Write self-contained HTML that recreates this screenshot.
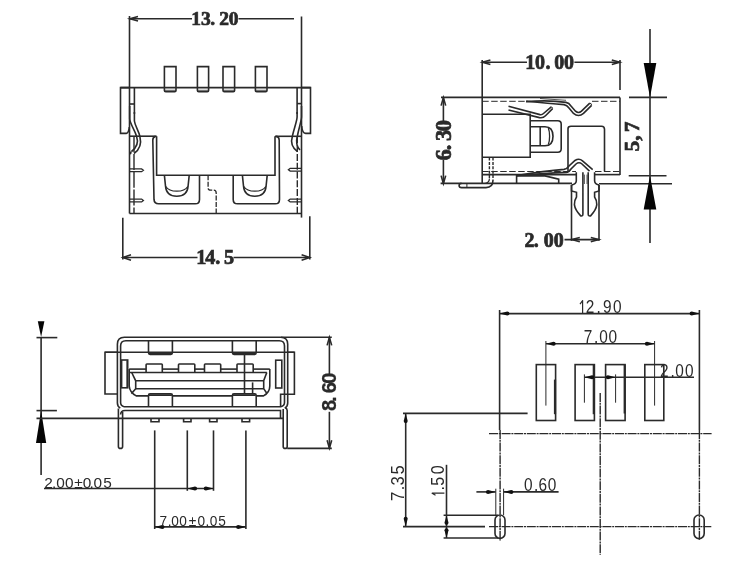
<!DOCTYPE html>
<html><head><meta charset="utf-8"><style>
html,body{margin:0;padding:0;background:#fff;}
svg{display:block;will-change:transform;}
</style></head><body>
<svg width="740" height="564" viewBox="0 0 740 564">
<rect x="0" y="0" width="740" height="564" fill="#fff"/>
<g fill="none" stroke="#2a2a2a" stroke-width="1.6" stroke-linecap="butt" stroke-linejoin="miter">
<line x1="129.5" y1="16" x2="129.5" y2="213.5"/>
<line x1="301.5" y1="16.5" x2="301.5" y2="217.6"/>
<line x1="130" y1="18.7" x2="192" y2="18.7"/>
<line x1="238.5" y1="18.7" x2="294" y2="18.7"/>
<path d="M138.00,20.90 L130,18.7 L138.00,16.50" fill="none"/>
<path d="M130,18.7 L134.00,19.80 L134.00,17.60 Z" fill="#2a2a2a" stroke="none"/>
<text y="25.3" font-family="Liberation Serif" font-weight="bold" font-size="19.5" fill="#2a2a2a" stroke="#2a2a2a" stroke-width="0.7"><tspan x="191.29">1</tspan><tspan x="200.96">3</tspan><tspan x="210.17">.</tspan><tspan x="219.17">2</tspan><tspan x="228.66">0</tspan></text>
<path d="M164.4,87.6 V66.6 H176 V87.6 M164.4,87.6 V90.5 Q164.4,91.8 165.70000000000002,91.8 H174.7 Q176,91.8 176,90.5 V87.6"/>
<line x1="164.4" y1="90.3" x2="176" y2="90.3" stroke-width="0.8"/>
<path d="M197.4,87.6 V66.6 H208.6 V87.6 M197.4,87.6 V90.5 Q197.4,91.8 198.70000000000002,91.8 H207.29999999999998 Q208.6,91.8 208.6,90.5 V87.6"/>
<line x1="197.4" y1="90.3" x2="208.6" y2="90.3" stroke-width="0.8"/>
<path d="M223,87.6 V66.6 H234.6 V87.6 M223,87.6 V90.5 Q223,91.8 224.3,91.8 H233.29999999999998 Q234.6,91.8 234.6,90.5 V87.6"/>
<line x1="223" y1="90.3" x2="234.6" y2="90.3" stroke-width="0.8"/>
<path d="M255.4,87.6 V66.6 H267 V87.6 M255.4,87.6 V90.5 Q255.4,91.8 256.7,91.8 H265.7 Q267,91.8 267,90.5 V87.6"/>
<line x1="255.4" y1="90.3" x2="267" y2="90.3" stroke-width="0.8"/>
<line x1="120.5" y1="87.6" x2="310.6" y2="87.6"/>
<path d="M129.5,87.6 H120.5 V133.4 H126.3 Q128.8,133 129.3,127"/>
<path d="M301.5,87.6 H310.5 V133.4 H305.6 Q302.2,133 301.7,126"/>
<line x1="134.4" y1="87.6" x2="134.4" y2="114"/>
<line x1="129.5" y1="104" x2="134.4" y2="104"/>
<line x1="297.1" y1="87.6" x2="297.1" y2="114"/>
<line x1="297.1" y1="103.6" x2="301.5" y2="103.6"/>
<path d="M129.7,106 V119 C130,124 135,130 136.6,136.5 C138.5,142 138,146.5 131.5,151.5"/>
<path d="M134.4,112 V121 C135,126 138.8,131 139.9,136.5 C141.5,143 140.5,149 134,153.5"/>
<path d="M131.5,151.5 Q129.8,153 131.2,154"/>
<path d="M301.5,106 V117 C301.2,122 298.6,129 297.4,136 C296,141 295.6,145.5 300,150"/>
<path d="M297.1,112 V117 C297,121 294.2,128 292.4,136 C290.6,142 291,147 297.5,151.5"/>
<line x1="129.5" y1="136.2" x2="156.6" y2="136.2"/>
<line x1="275" y1="136.3" x2="301.5" y2="136.3"/>
<path d="M156.6,136.2 V175.3 H275 V136.3"/>
<path d="M155.6,136.4 Q152.8,137 152.8,140 L154,199.4 Q154.2,203.8 158.6,203.8 H195.2 Q199.5,203.8 199.5,199.4 V175.3"/>
<path d="M233.2,175.3 V199.4 Q233.2,203.8 237.6,203.8 H275.2 Q279.5,203.8 279.5,199.4 L279.2,140 Q279,136.6 276,136.4"/>
<path d="M164.4,175.3 L165.5,186 Q166.3,196.3 176.8,196.3 Q187.3,196.3 188.10000000000002,186 L189.20000000000002,175.3"/>
<path d="M165.8,186.5 Q168.8,191.2 176.8,191.2 Q184.8,191.2 187.8,186.5" stroke-width="1.2"/>
<path d="M242.4,175.3 L243.5,186 Q244.3,196.3 254.8,196.3 Q265.3,196.3 266.1,186 L267.2,175.3"/>
<path d="M243.8,186.5 Q246.8,191.2 254.8,191.2 Q262.8,191.2 265.8,186.5" stroke-width="1.2"/>
<path d="M208.1,175.3 V188 Q208.1,190.2 210.8,190.2 H213.4 Q216.2,190.2 216.2,193 V213.5" stroke-width="1.3" stroke-dasharray="5,1.5"/>
<line x1="129.5" y1="213.5" x2="301.5" y2="213.5"/>
<line x1="134" y1="136.2" x2="134" y2="213.5" stroke-width="1.4" stroke-dasharray="16,1.8"/>
<line x1="297.3" y1="136.3" x2="297.3" y2="213.5" stroke-width="1.4" stroke-dasharray="7,1.8"/>
<path d="M129.6,168.9 H141.6 L143.4,170.3 L141.6,171.70000000000002 H129.6" stroke-width="1.3"/>
<path d="M129.6,199.1 H141.6 L143.4,200.5 L141.6,201.9 H129.6" stroke-width="1.3"/>
<path d="M301.5,168.29999999999998 H290.2 L288.4,169.7 L290.2,171.1 H301.5" stroke-width="1.3"/>
<path d="M301.5,199.1 H290.2 L288.4,200.5 L290.2,201.9 H301.5" stroke-width="1.3"/>
<line x1="122.8" y1="217.8" x2="122.8" y2="259.6"/>
<line x1="309.8" y1="216.3" x2="309.8" y2="259.6"/>
<line x1="123" y1="257.5" x2="197.5" y2="257.5"/>
<line x1="233.5" y1="257.5" x2="309.6" y2="257.5"/>
<path d="M131.00,260.20 L123,257.5 L131.00,254.80" fill="none"/>
<path d="M123,257.5 L127.00,258.85 L127.00,256.15 Z" fill="#2a2a2a" stroke="none"/>
<path d="M301.60,254.80 L309.6,257.5 L301.60,260.20" fill="none"/>
<path d="M309.6,257.5 L305.60,256.15 L305.60,258.85 Z" fill="#2a2a2a" stroke="none"/>
<text y="264.3" font-family="Liberation Serif" font-weight="bold" font-size="20.2" fill="#2a2a2a" stroke="#2a2a2a" stroke-width="0.7"><tspan x="196.13">1</tspan><tspan x="205.35">4</tspan><tspan x="215.14">.</tspan><tspan x="223.94">5</tspan></text>
<line x1="482.2" y1="60" x2="482.2" y2="183.4"/>
<line x1="620" y1="60" x2="620" y2="90"/>
<line x1="482.4" y1="62.3" x2="527" y2="62.3"/>
<line x1="574.4" y1="62.3" x2="619.8" y2="62.3"/>
<path d="M490.40,64.60 L482.4,62.3 L490.40,60.00" fill="none"/>
<path d="M482.4,62.3 L484.80,62.99 L484.80,61.61 Z" fill="#2a2a2a" stroke="none"/>
<path d="M611.80,60.00 L619.8,62.3 L611.80,64.60" fill="none"/>
<path d="M619.8,62.3 L617.40,61.61 L617.40,62.99 Z" fill="#2a2a2a" stroke="none"/>
<text y="69.1" font-family="Liberation Serif" font-weight="bold" font-size="20" fill="#2a2a2a" stroke="#2a2a2a" stroke-width="0.7"><tspan x="525.35">1</tspan><tspan x="534.95">0</tspan><tspan x="545.45">.</tspan><tspan x="554.35">0</tspan><tspan x="563.95">0</tspan></text>
<line x1="441" y1="97.4" x2="620" y2="97.4"/>
<line x1="620" y1="97.4" x2="620" y2="175"/>
<line x1="482.2" y1="101.3" x2="528" y2="101.3" stroke-width="1.0" stroke-dasharray="6.5,2.5"/>
<line x1="592" y1="101.3" x2="620" y2="101.3" stroke-width="1.0" stroke-dasharray="6.5,2.5"/>
<line x1="443.4" y1="98" x2="443.4" y2="121"/>
<line x1="443.4" y1="160" x2="443.4" y2="183.5"/>
<path d="M441.10,105.60 L443.4,97.6 L445.70,105.60" fill="none"/>
<path d="M443.4,97.6 L442.71,100.00 L444.09,100.00 Z" fill="#2a2a2a" stroke="none"/>
<path d="M445.70,175.60 L443.4,183.6 L441.10,175.60" fill="none"/>
<path d="M443.4,183.6 L444.09,181.20 L442.71,181.20 Z" fill="#2a2a2a" stroke="none"/>
<text y="451.3" font-family="Liberation Serif" font-weight="bold" font-size="22.5" fill="#2a2a2a" stroke="#2a2a2a" stroke-width="0.7" transform="rotate(-90)"><tspan x="-160.53">6</tspan><tspan x="-150.15">.</tspan><tspan x="-141.03">3</tspan><tspan x="-131.33">0</tspan></text>
<line x1="440.6" y1="183.4" x2="572" y2="183.4"/>
<path d="M482.2,114.3 H530.2 V157.3 H482.2"/>
<path d="M530.4,120.8 H557.8 Q561.2,120.8 561.2,124.2 V148.8 Q561.2,152.2 557.8,152.2 H530.4"/>
<path d="M530.4,126.8 H545 Q553,126.8 553,136.3 Q553,145.8 545,145.8 H530.4"/>
<line x1="540.2" y1="126.8" x2="540.2" y2="145.8"/>
<path d="M548.3,128 Q549.6,131 549.6,136.3 Q549.6,141.6 548.3,144.6" stroke-width="1.3"/>
<path d="M508.5,106.3 L540,114.6 Q542,115 543.5,113.5 L551.3,106.9"/>
<path d="M508.5,110 L539.5,117.6 Q543,118.3 545.5,115.8 L552.6,108.6"/>
<path d="M551.3,106.9 Q552.6,107 552.6,108.6" stroke-width="1.0"/>
<path d="M526,101.6 Q550,99.8 566,102.4 Q569,103 571,106 L575.5,111.2 Q578.5,113.8 581.5,111.2 L589.8,103.2"/>
<path d="M526,101.3 Q550,103.6 564,104.6 Q567,105 569,108 L573.5,113.4 Q578.5,117.6 583.5,113.4 L591.6,105.4"/>
<path d="M589.8,103.2 Q591.5,103 591.6,105.4" stroke-width="1.0"/>
<line x1="540" y1="98.5" x2="566" y2="100.3" stroke-width="0.8"/>
<path d="M568,171.5 V128.8 Q568,126.3 571,126.3 H601.5 Q604.5,126.3 604.5,129.3 V171.5"/>
<line x1="482.2" y1="171.5" x2="576" y2="171.5" stroke-width="1.0" stroke-dasharray="6.5,2.5"/>
<line x1="595" y1="171.5" x2="620" y2="171.5" stroke-width="1.0" stroke-dasharray="6.5,2.5"/>
<line x1="482.2" y1="174.6" x2="576.3" y2="174.6"/>
<line x1="594.6" y1="174.6" x2="620" y2="174.6"/>
<path d="M517,175.5 Q545,171 564,169.4 Q567,169 569,166 L575,160.5 Q579,157.8 582.5,160.8 L592.7,169.6"/>
<path d="M517,175.5 Q545,173.5 566,172.4 Q569,172.2 571,169 L576,164 Q579,161.5 582,164 L589.5,171.2"/>
<path d="M516.6,183.4 V175.9 H545 L558.7,179.2 V183.4"/>
<line x1="489.4" y1="157.5" x2="489.4" y2="178.5" stroke-width="1.4" stroke-dasharray="3,1.4"/>
<path d="M489.4,178.5 Q489.4,182.5 485.5,183.4" stroke-width="1.2"/>
<line x1="493" y1="157.5" x2="493" y2="180" stroke-width="1.4" stroke-dasharray="3,1.4"/>
<path d="M493,180 Q493,187.6 486,187.6 H461.5 Q459.1,187.6 459.1,185.5 Q459.1,183.4 461.5,183.4"/>
<line x1="466.9" y1="183.4" x2="466.9" y2="187.6" stroke-width="1.0"/>
<path d="M576.3,172.2 V180.7 Q576.3,184 571.5,185"/>
<path d="M594.6,172.2 V180.7 Q594.6,184 599,185"/>
<path d="M571.5,185 V190.9 L576.5,192.3 V197 Q574.4,200 574.4,204.7 Q575,210 580.7,215.9 Q582.9,216.5 582.9,214 V172.2"/>
<path d="M599,185 V190.9 L594.6,192.3 V197 Q596.8,200 596.8,204.7 Q596.2,210 590.6,215.9 Q588.2,216.5 588.2,214 V172.2"/>
<line x1="584.4" y1="174.6" x2="584.4" y2="184" stroke-width="0.8"/>
<line x1="587" y1="174.6" x2="587" y2="184" stroke-width="0.8"/>
<line x1="571.5" y1="185" x2="571.5" y2="240.8"/>
<line x1="599" y1="185" x2="599" y2="240.8"/>
<line x1="599" y1="183.8" x2="672" y2="183.8"/>
<line x1="564.5" y1="239.6" x2="598.8" y2="239.6"/>
<path d="M579.80,241.80 L571.8,239.6 L579.80,237.40" fill="none"/>
<path d="M571.8,239.6 L574.20,240.26 L574.20,238.94 Z" fill="#2a2a2a" stroke="none"/>
<path d="M590.80,237.40 L598.8,239.6 L590.80,241.80" fill="none"/>
<path d="M598.8,239.6 L596.40,238.94 L596.40,240.26 Z" fill="#2a2a2a" stroke="none"/>
<text y="247.1" font-family="Liberation Serif" font-weight="bold" font-size="20" fill="#2a2a2a" stroke="#2a2a2a" stroke-width="0.7"><tspan x="524.45">2</tspan><tspan x="533.85">.</tspan><tspan x="543.65">0</tspan><tspan x="553.65">0</tspan></text>
<line x1="650" y1="29" x2="650" y2="243"/>
<path d="M650,97.4 L656.30,63.00 L643.70,63.00 Z" fill="#050505" stroke="none"/>
<path d="M650,175.8 L643.70,209.40 L656.30,209.40 Z" fill="#050505" stroke="none"/>
<line x1="629" y1="97.4" x2="667" y2="97.4"/>
<line x1="628.7" y1="175.8" x2="666.5" y2="175.8"/>
<text y="639" font-family="Liberation Serif" font-weight="bold" font-size="21.5" fill="#2a2a2a" stroke="#2a2a2a" stroke-width="0.7" transform="rotate(-90)"><tspan x="-151.51">5</tspan><tspan x="-140.87">,</tspan><tspan x="-132.22">7</tspan></text>
<line x1="41.1" y1="337" x2="41.1" y2="475"/>
<path d="M41.1,337 L44.40,321.20 L37.80,321.20 Z" fill="#050505" stroke="none"/>
<path d="M41.1,410.6 L36.00,443.00 L46.20,443.00 Z" fill="#050505" stroke="none"/>
<line x1="36.5" y1="337.6" x2="57.3" y2="337.6"/>
<line x1="36.5" y1="410.6" x2="56.9" y2="410.6"/>
<line x1="36.5" y1="418.4" x2="283" y2="418.4"/>
<path d="M120.3,408 Q117.4,406.5 117.4,403 V344.2 Q117.4,337.2 124.4,337.2 H280.7 Q287.7,337.2 287.7,344.2 V403 Q287.7,406.5 284.8,408"/>
<path d="M124.2,406.7 Q120.6,406 120.6,402.5 V346 Q120.6,340.8 125.8,340.8 H279.3 Q284.5,340.8 284.5,346 V402.5 Q284.5,406 280.8,406.7 Z"/>
<line x1="281" y1="337.2" x2="331.8" y2="337.2"/>
<path d="M117.4,352.3 H105 V394 H117.4"/>
<path d="M287.7,352.3 H294.4 V394.3 H280.6 V406.7"/>
<line x1="105" y1="352.3" x2="294.4" y2="352.3"/>
<rect x="121.6" y="360" width="6.1" height="27.8"/>
<line x1="127.2" y1="360.5" x2="127.2" y2="387.3" stroke-width="1.6"/>
<rect x="275.7" y="360.2" width="6.1" height="27.8"/>
<path d="M148.5,340.8 V352.8 Q148.5,354.4 150.1,354.4 H170.8 Q172.4,354.4 172.4,352.8 V340.8"/>
<line x1="149.0" y1="353.4" x2="171.9" y2="353.4" stroke-width="1.6"/>
<path d="M148.5,406.7 V395.4 Q148.5,393.9 150.0,393.9 H170.9 Q172.4,393.9 172.4,395.4 V406.7"/>
<line x1="149.0" y1="395.2" x2="171.9" y2="395.2" stroke-width="1.6"/>
<path d="M232.4,340.8 V352.8 Q232.4,354.4 234.0,354.4 H254.6 Q256.2,354.4 256.2,352.8 V340.8"/>
<line x1="232.9" y1="353.4" x2="255.7" y2="353.4" stroke-width="1.6"/>
<path d="M232.4,406.7 V395.4 Q232.4,393.9 233.9,393.9 H254.7 Q256.2,393.9 256.2,395.4 V406.7"/>
<line x1="232.9" y1="395.2" x2="255.7" y2="395.2" stroke-width="1.6"/>
<line x1="129.2" y1="372.5" x2="266.8" y2="372.5"/>
<line x1="129.2" y1="369.1" x2="146.1" y2="369.1"/>
<path d="M146.1,372.5 V364.8 Q146.1,364 146.9,364 H161.5 Q162.3,364 162.3,364.8 V372.5"/>
<line x1="162.3" y1="369.1" x2="178.5" y2="369.1"/>
<path d="M178.5,372.5 V364.8 Q178.5,364 179.3,364 H194.0 Q194.8,364 194.8,364.8 V372.5"/>
<line x1="194.8" y1="369.1" x2="204.5" y2="369.1"/>
<path d="M204.5,372.5 V364.8 Q204.5,364 205.3,364 H219.89999999999998 Q220.7,364 220.7,364.8 V372.5"/>
<line x1="220.7" y1="369.1" x2="237" y2="369.1"/>
<path d="M237,372.5 V364.8 Q237,364 237.8,364 H252.39999999999998 Q253.2,364 253.2,364.8 V372.5"/>
<line x1="253.2" y1="369.1" x2="269.8" y2="369.1"/>
<path d="M129.2,369.1 V386 Q129.7,392.5 136.2,395.9 H148.5"/>
<line x1="172.4" y1="395.9" x2="232.4" y2="395.9"/>
<path d="M256.2,395.9 H263.5 Q269.8,392.5 269.8,386 V369.1"/>
<path d="M131.7,372.5 L135.7,380.8 V388.8 L131.4,393.6"/>
<path d="M266.8,372.5 L263.7,380.6 V388.6 L266.6,393"/>
<line x1="135.7" y1="380.8" x2="263.7" y2="380.8"/>
<line x1="135.7" y1="388.8" x2="263.7" y2="388.8"/>
<line x1="244.5" y1="352.3" x2="244.5" y2="393.9"/>
<line x1="252.6" y1="382.4" x2="252.6" y2="393.9"/>
<path d="M120.6,414.5 Q120.8,410.5 125,410.5 H280.5 V418.4"/>
<path d="M118.4,408.5 V446.4 Q118.4,448.4 120.5,448.4 Q122.6,448.4 122.6,446.4 V412"/>
<path d="M283.2,409 V446.4 Q283.2,448.4 285.2,448.4 Q287.2,448.4 287.2,446.4 V410.5 Q287.2,408.5 285,407.6"/>
<line x1="287.2" y1="448.4" x2="331.8" y2="448.4"/>
<path d="M151,418.4 V421.8 H159 V418.4"/>
<path d="M183.6,418.4 V421.8 H191 V418.4"/>
<path d="M209.6,418.4 V421.8 H217 V418.4"/>
<path d="M242,418.4 V421.8 H249.6 V418.4"/>
<line x1="329.4" y1="337.6" x2="329.4" y2="374.2"/>
<line x1="329.4" y1="411.8" x2="329.4" y2="448"/>
<path d="M327.10,345.40 L329.4,337.4 L331.70,345.40" fill="none"/>
<path d="M329.4,337.4 L328.71,339.80 L330.09,339.80 Z" fill="#2a2a2a" stroke="none"/>
<path d="M331.70,440.20 L329.4,448.2 L327.10,440.20" fill="none"/>
<path d="M329.4,448.2 L330.09,445.80 L328.71,445.80 Z" fill="#2a2a2a" stroke="none"/>
<text y="335.9" font-family="Liberation Sans" font-weight="bold" font-size="20" fill="#2a2a2a" stroke="#2a2a2a" stroke-width="0.25" transform="rotate(-90)"><tspan x="-411.08">8</tspan><tspan x="-401.88">.</tspan><tspan x="-393.18">6</tspan><tspan x="-383.78">0</tspan></text>
<line x1="154.7" y1="430.4" x2="154.7" y2="529"/>
<line x1="187.3" y1="430.4" x2="187.3" y2="490.8"/>
<line x1="213.5" y1="430.4" x2="213.5" y2="490.8"/>
<line x1="245.9" y1="430.4" x2="245.9" y2="529"/>
<line x1="44" y1="488.5" x2="213.5" y2="488.5"/>
<path d="M187.3,488.5 L194.94,490.50 Q197.10,490.50 197.10,488.50 Q197.10,486.50 194.94,486.50 Z" fill="#111" stroke="none"/>
<path d="M213.5,488.5 L205.86,486.50 Q203.70,486.50 203.70,488.50 Q203.70,490.50 205.86,490.50 Z" fill="#111" stroke="none"/>
<text y="487.5" font-family="Liberation Sans" font-weight="normal" font-size="15.4" fill="#2a2a2a" stroke="none"><tspan x="44.13">2</tspan><tspan x="52.11">.</tspan><tspan x="56.34">0</tspan><tspan x="64.94">0</tspan><tspan x="74.14">±</tspan><tspan x="82.74">0</tspan><tspan x="89.41">.</tspan><tspan x="93.54">0</tspan><tspan x="103.18">5</tspan></text>
<line x1="154.7" y1="526.9" x2="245.9" y2="526.9"/>
<path d="M154.7,526.9 L162.34,528.90 Q164.50,528.90 164.50,526.90 Q164.50,524.90 162.34,524.90 Z" fill="#111" stroke="none"/>
<path d="M245.9,526.9 L238.26,524.90 Q236.10,524.90 236.10,526.90 Q236.10,528.90 238.26,528.90 Z" fill="#111" stroke="none"/>
<text y="525.8" font-family="Liberation Sans" font-weight="normal" font-size="15.2" fill="#2a2a2a" stroke="none" transform="scale(0.9,1)"><tspan x="177.13">7</tspan><tspan x="186.30">.</tspan><tspan x="190.21">0</tspan><tspan x="199.21">0</tspan><tspan x="209.77">±</tspan><tspan x="219.54">0</tspan><tspan x="228.41">.</tspan><tspan x="232.99">0</tspan><tspan x="242.61">5</tspan></text>
<line x1="499.6" y1="310" x2="499.6" y2="430"/>
<line x1="500.1" y1="430" x2="500.1" y2="541" stroke-width="1.4" stroke-dasharray="9,0.8,2,0.8"/>
<line x1="699.4" y1="310" x2="699.4" y2="430"/>
<line x1="699.4" y1="430" x2="699.4" y2="540" stroke-width="1.4" stroke-dasharray="9,0.8,2,0.8"/>
<line x1="499.6" y1="313.6" x2="699.4" y2="313.6"/>
<path d="M499.6,313.6 L507.24,315.60 Q509.40,315.60 509.40,313.60 Q509.40,311.60 507.24,311.60 Z" fill="#111" stroke="none"/>
<path d="M699.4,313.6 L691.76,311.60 Q689.60,311.60 689.60,313.60 Q689.60,315.60 691.76,315.60 Z" fill="#111" stroke="none"/>
<path d="M580.00,304.07 L582.60,300.60 V313.00" stroke-width="1.2" stroke-linejoin="round"/>
<text y="313" font-family="Liberation Sans" font-weight="normal" font-size="17.5" fill="#2a2a2a" stroke="none" transform="scale(0.88,1)"><tspan x="665.72">2</tspan><tspan x="677.74">.</tspan><tspan x="685.32">9</tspan><tspan x="696.52">0</tspan></text>
<line x1="545.9" y1="341" x2="545.9" y2="405.6" stroke-width="1.0"/>
<line x1="654.6" y1="341" x2="654.6" y2="405.6" stroke-width="1.0"/>
<line x1="545.9" y1="343.8" x2="654.6" y2="343.8"/>
<path d="M545.9,343.8 L553.54,345.80 Q555.70,345.80 555.70,343.80 Q555.70,341.80 553.54,341.80 Z" fill="#111" stroke="none"/>
<path d="M654.6,343.8 L646.96,341.80 Q644.80,341.80 644.80,343.80 Q644.80,345.80 646.96,345.80 Z" fill="#111" stroke="none"/>
<text y="343" font-family="Liberation Sans" font-weight="normal" font-size="17.5" fill="#2a2a2a" stroke="none" transform="scale(0.88,1)"><tspan x="663.44">7</tspan><tspan x="675.02">.</tspan><tspan x="681.07">0</tspan><tspan x="691.52">0</tspan></text>
<rect x="536.3" y="364.6" width="19.3" height="55.9"/>
<rect x="575.1" y="364.6" width="19.3" height="55.9"/>
<rect x="605.6" y="364.6" width="19.5" height="55.9"/>
<rect x="644.8" y="364.6" width="19.0" height="55.9"/>
<line x1="555" y1="379.6" x2="555" y2="414.2" stroke-width="2.2"/>
<line x1="593.8" y1="365" x2="593.8" y2="414.2" stroke-width="2.2"/>
<line x1="624.6" y1="365" x2="624.6" y2="413.5" stroke-width="2.0"/>
<line x1="584.4" y1="374.4" x2="584.4" y2="402.7" stroke-width="1.0"/>
<line x1="615.6" y1="374.4" x2="615.6" y2="402.7" stroke-width="1.0"/>
<line x1="584.4" y1="377.3" x2="694" y2="377.3"/>
<path d="M584.4,377.3 L592.04,379.30 Q594.20,379.30 594.20,377.30 Q594.20,375.30 592.04,375.30 Z" fill="#111" stroke="none"/>
<path d="M615.6,377.3 L607.96,375.30 Q605.80,375.30 605.80,377.30 Q605.80,379.30 607.96,379.30 Z" fill="#111" stroke="none"/>
<text y="376.9" font-family="Liberation Sans" font-weight="normal" font-size="17.5" fill="#2a2a2a" stroke="none" transform="scale(0.88,1)"><tspan x="749.92">2</tspan><tspan x="762.06">.</tspan><tspan x="767.32">0</tspan><tspan x="778.34">0</tspan></text>
<line x1="403" y1="413.4" x2="527.6" y2="413.4"/>
<line x1="405.7" y1="413.4" x2="405.7" y2="526.5"/>
<path d="M405.7,413.4 L403.70,421.04 Q403.70,423.20 405.70,423.20 Q407.70,423.20 407.70,421.04 Z" fill="#111" stroke="none"/>
<path d="M405.7,526.5 L407.70,518.86 Q407.70,516.70 405.70,516.70 Q403.70,516.70 403.70,518.86 Z" fill="#111" stroke="none"/>
<text y="404.2" font-family="Liberation Sans" font-weight="normal" font-size="17.5" fill="#2a2a2a" stroke="none" transform="rotate(-90) scale(0.95,1)"><tspan x="-527.40">7</tspan><tspan x="-516.00">.</tspan><tspan x="-510.95">3</tspan><tspan x="-499.44">5</tspan></text>
<line x1="489" y1="433.6" x2="711.6" y2="433.6" stroke-width="1.4" stroke-dasharray="9,0.8,2,0.8"/>
<line x1="600.2" y1="393" x2="600.2" y2="554.7" stroke-width="1.4" stroke-dasharray="9,0.8,2,0.8"/>
<line x1="403" y1="526.6" x2="485" y2="526.6"/>
<line x1="489" y1="526.6" x2="711.3" y2="526.6" stroke-width="1.4" stroke-dasharray="9,0.8,2,0.8"/>
<line x1="446.5" y1="464.8" x2="446.5" y2="538"/>
<path d="M446.5,515.2 L444.50,522.84 Q444.50,525.00 446.50,525.00 Q448.50,525.00 448.50,522.84 Z" fill="#111" stroke="none"/>
<path d="M446.5,538.0 L448.50,530.36 Q448.50,528.20 446.50,528.20 Q444.50,528.20 444.50,530.36 Z" fill="#111" stroke="none"/>
<line x1="443.6" y1="515.2" x2="498" y2="515.2"/>
<line x1="443.6" y1="538" x2="498" y2="538"/>
<path d="M435.54,495.20 L432.10,493.20 H444.40" stroke-width="1.2" stroke-linejoin="round"/>
<text y="444.4" font-family="Liberation Sans" font-weight="normal" font-size="17.5" fill="#2a2a2a" stroke="none" transform="rotate(-90) scale(0.92,1)"><tspan x="-533.10">.</tspan><tspan x="-527.87">5</tspan><tspan x="-515.52">0</tspan></text>
<line x1="476.4" y1="491.9" x2="495.7" y2="491.9"/>
<line x1="503.6" y1="491.9" x2="558.6" y2="491.9"/>
<path d="M495.7,491.9 L488.06,489.90 Q485.90,489.90 485.90,491.90 Q485.90,493.90 488.06,493.90 Z" fill="#111" stroke="none"/>
<path d="M503.6,491.9 L511.24,493.90 Q513.40,493.90 513.40,491.90 Q513.40,489.90 511.24,489.90 Z" fill="#111" stroke="none"/>
<line x1="495.8" y1="488.7" x2="495.8" y2="515.2" stroke-width="1.0"/>
<line x1="503.6" y1="488.7" x2="503.6" y2="515.2" stroke-width="1.0"/>
<text y="491" font-family="Liberation Sans" font-weight="normal" font-size="17.5" fill="#2a2a2a" stroke="none" transform="scale(0.88,1)"><tspan x="595.61">0</tspan><tspan x="606.95">.</tspan><tspan x="611.97">6</tspan><tspan x="622.54">0</tspan></text>
<rect x="495" y="515" width="10" height="23.4" rx="5"/>
<rect x="694" y="515" width="10.2" height="23.6" rx="5"/>
</g>
</svg>
</body></html>
